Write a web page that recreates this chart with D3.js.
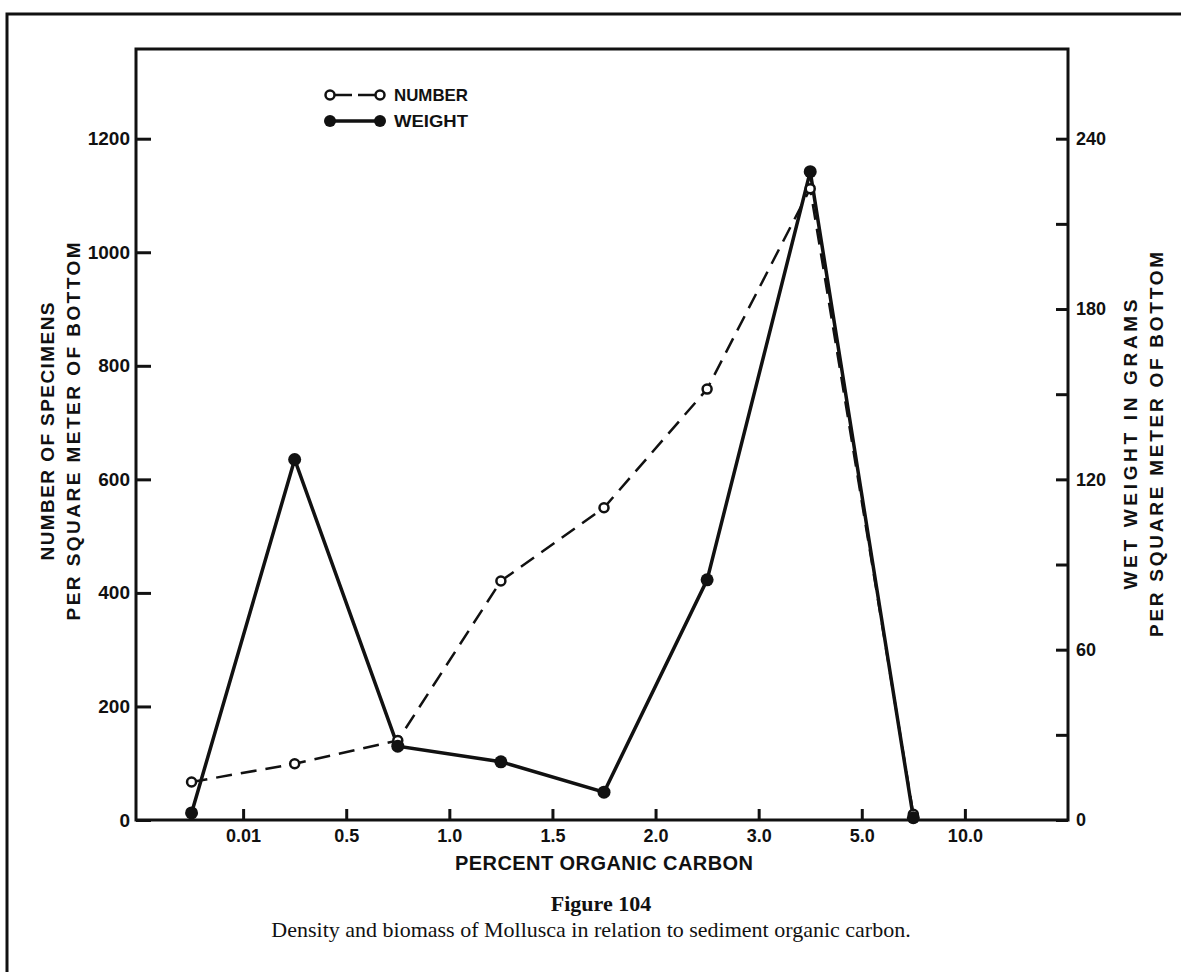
<!DOCTYPE html>
<html>
<head>
<meta charset="utf-8">
<script src="https://cdn.jsdelivr.net/npm/d3@7"></script>
<style>
  body { margin: 0; background: #fff; }
  svg text { font-family: "Liberation Sans", Arial, sans-serif; font-weight: bold; fill: #111; }
  .caption text { font-family: "Liberation Serif", "Times New Roman", serif; }
</style>
</head>
<body>
<div id="chart"></div>
<script>
// percent organic carbon class boundaries (tick labels between the classes)
var carbonTicks = ["0.01", "0.5", "1.0", "1.5", "2.0", "3.0", "5.0", "10.0"];
// one point per carbon class, plotted at the middle of each class
var carbonClasses = ["<0.01", "0.01-0.5", "0.5-1.0", "1.0-1.5", "1.5-2.0", "2.0-3.0", "3.0-5.0", "5.0-10.0"];
// number of specimens per square meter (left axis)
var numberValues = [67, 99, 140, 421, 550, 759, 1112, 10];
// wet weight, grams per square meter (right axis)
var weightValues = [2.5, 127, 26, 20.5, 9.8, 84.6, 228.4, 0.8];

var leftTicks = [0, 200, 400, 600, 800, 1000, 1200];
var rightTicks = [0, 30, 60, 90, 120, 150, 180, 210, 240];
var rightLabels = [0, 60, 120, 180, 240];

var svgWidth = 1181, svgHeight = 972;
var margin = { top: 49, right: 113, bottom: 152, left: 136 };
var width = svgWidth - margin.left - margin.right;
var height = svgHeight - margin.top - margin.bottom;

var svg = d3.select("#chart").append("svg")
  .attr("width", svgWidth)
  .attr("height", svgHeight);

// outer figure frame (left and top rules)
svg.append("path")
  .attr("d", "M7,972 V14 H1181")
  .attr("fill", "none")
  .attr("stroke", "#111")
  .attr("stroke-width", 3);

var g = svg.append("g")
  .attr("transform", `translate(${margin.left}, ${margin.top})`);

// x: class index, boundaries at whole numbers, points at the half
var x = d3.scaleLinear().domain([0, 9]).range([4, width]);
var yLeft = d3.scaleLinear().domain([0, 1358]).range([height, 0]);
var yRight = d3.scaleLinear().domain([0, 1358 / 5]).range([height, 0]);

// plot frame
g.append("rect")
  .attr("width", width)
  .attr("height", height)
  .attr("fill", "none")
  .attr("stroke", "#111")
  .attr("stroke-width", 3);

var leftAxis = d3.axisLeft(yLeft).tickValues(leftTicks).tickSize(-15).tickPadding(6)
  .tickFormat(d3.format("d"));
var rightAxis = d3.axisRight(yRight).tickValues(rightTicks).tickSize(-12).tickPadding(8)
  .tickFormat(d => rightLabels.indexOf(d) >= 0 ? d : "");
var bottomAxis = d3.axisBottom(x).tickValues(d3.range(1, 9)).tickSize(-11).tickPadding(9)
  .tickFormat(i => carbonTicks[i - 1]);

function styleAxis(sel, size) {
  sel.select(".domain").remove();
  sel.selectAll(".tick line").attr("stroke", "#111").attr("stroke-width", 3);
  sel.selectAll(".tick text").attr("font-size", size).attr("fill", "#111")
    .style("font-family", "'Liberation Sans', Arial, sans-serif").style("font-weight", "bold");
}

g.append("g").call(leftAxis).call(styleAxis, 19);
g.append("g").attr("transform", `translate(${width}, 0)`).call(rightAxis).call(styleAxis, 18);
g.append("g").attr("transform", `translate(0, ${height})`).call(bottomAxis).call(styleAxis, 18);

// x axis title
g.append("text")
  .attr("x", 468)
  .attr("y", height + 50)
  .attr("text-anchor", "middle")
  .attr("font-size", 20)
  .attr("textLength", 298)
  .attr("lengthAdjust", "spacing")
  .text("PERCENT ORGANIC CARBON");

// left y title, two lines
var leftTitle = [
  { text: "NUMBER OF SPECIMENS", len: 258, dx: -89 },
  { text: "PER SQUARE METER OF BOTTOM", len: 378, dx: -63 }
];
g.selectAll(".ltitle")
  .data(leftTitle)
  .enter()
  .append("text")
  .attr("class", "ltitle")
  .attr("transform", d => `translate(${d.dx}, ${height / 2 - 3}) rotate(-90)`)
  .attr("dy", "0.36em")
  .attr("text-anchor", "middle")
  .attr("font-size", 19)
  .attr("textLength", d => d.len)
  .attr("lengthAdjust", "spacing")
  .text(d => d.text);

// right y title, two lines
var rightTitle = [
  { text: "WET WEIGHT IN GRAMS", len: 290, dx: 62 },
  { text: "PER SQUARE METER OF BOTTOM", len: 385, dx: 88 }
];
g.selectAll(".rtitle")
  .data(rightTitle)
  .enter()
  .append("text")
  .attr("class", "rtitle")
  .attr("transform", d => `translate(${width + d.dx}, ${height / 2 + 10}) rotate(-90)`)
  .attr("dy", "0.36em")
  .attr("text-anchor", "middle")
  .attr("font-size", 19)
  .attr("textLength", d => d.len)
  .attr("lengthAdjust", "spacing")
  .text(d => d.text);

// lines
var numberLine = d3.line()
  .x((d, i) => x(i + 0.5))
  .y(d => yLeft(d));
var weightLine = d3.line()
  .x((d, i) => x(i + 0.5))
  .y(d => yRight(d));

g.append("path")
  .datum(numberValues)
  .attr("d", numberLine)
  .attr("fill", "none")
  .attr("stroke", "#111")
  .attr("stroke-width", 2.5)
  .attr("stroke-dasharray", "16,9");

g.append("path")
  .datum(weightValues)
  .attr("d", weightLine)
  .attr("fill", "none")
  .attr("stroke", "#111")
  .attr("stroke-width", 3.5);

// markers
g.selectAll(".numDot")
  .data(numberValues)
  .enter()
  .append("circle")
  .attr("class", "numDot")
  .attr("cx", (d, i) => x(i + 0.5))
  .attr("cy", d => yLeft(d))
  .attr("r", 4.5)
  .attr("fill", "#fff")
  .attr("stroke", "#111")
  .attr("stroke-width", 2.5);

g.selectAll(".wDot")
  .data(weightValues)
  .enter()
  .append("circle")
  .attr("class", "wDot")
  .attr("cx", (d, i) => x(i + 0.5))
  .attr("cy", d => yRight(d))
  .attr("r", 6.5)
  .attr("fill", "#111");

// legend
var legendItems = [
  { name: "NUMBER", filled: false, dash: "14,8" },
  { name: "WEIGHT", filled: true, dash: null }
];
var legend = g.append("g").attr("transform", "translate(194, 46)");
var item = legend.selectAll(".item")
  .data(legendItems)
  .enter()
  .append("g")
  .attr("transform", (d, i) => `translate(0, ${i * 26})`);

item.append("line")
  .attr("x1", 0).attr("x2", 50)
  .attr("stroke", "#111")
  .attr("stroke-width", d => d.filled ? 3.5 : 2.5)
  .attr("stroke-dasharray", d => d.dash ? "0,5,17,6,17,5" : null);

item.selectAll("circle")
  .data(d => [d, d])
  .enter()
  .append("circle")
  .attr("cx", (d, i) => i * 50)
  .attr("r", d => d.filled ? 6 : 4.5)
  .attr("fill", d => d.filled ? "#111" : "#fff")
  .attr("stroke", "#111")
  .attr("stroke-width", d => d.filled ? 0 : 2.5);

item.append("text")
  .attr("x", 64)
  .attr("dy", "0.36em")
  .attr("font-size", 17)
  .attr("textLength", 74)
  .attr("lengthAdjust", "spacingAndGlyphs")
  .text(d => d.name);

// caption
var caption = svg.append("g").attr("class", "caption");
caption.append("text")
  .attr("x", 601)
  .attr("y", 911)
  .attr("text-anchor", "middle")
  .attr("font-size", 22)
  .text("Figure 104");
caption.append("text")
  .attr("x", 591)
  .attr("y", 937)
  .attr("text-anchor", "middle")
  .attr("font-size", 22)
  .style("font-weight", "normal")
  .text("Density and biomass of Mollusca in relation to sediment organic carbon.");
</script>
</body>
</html>
